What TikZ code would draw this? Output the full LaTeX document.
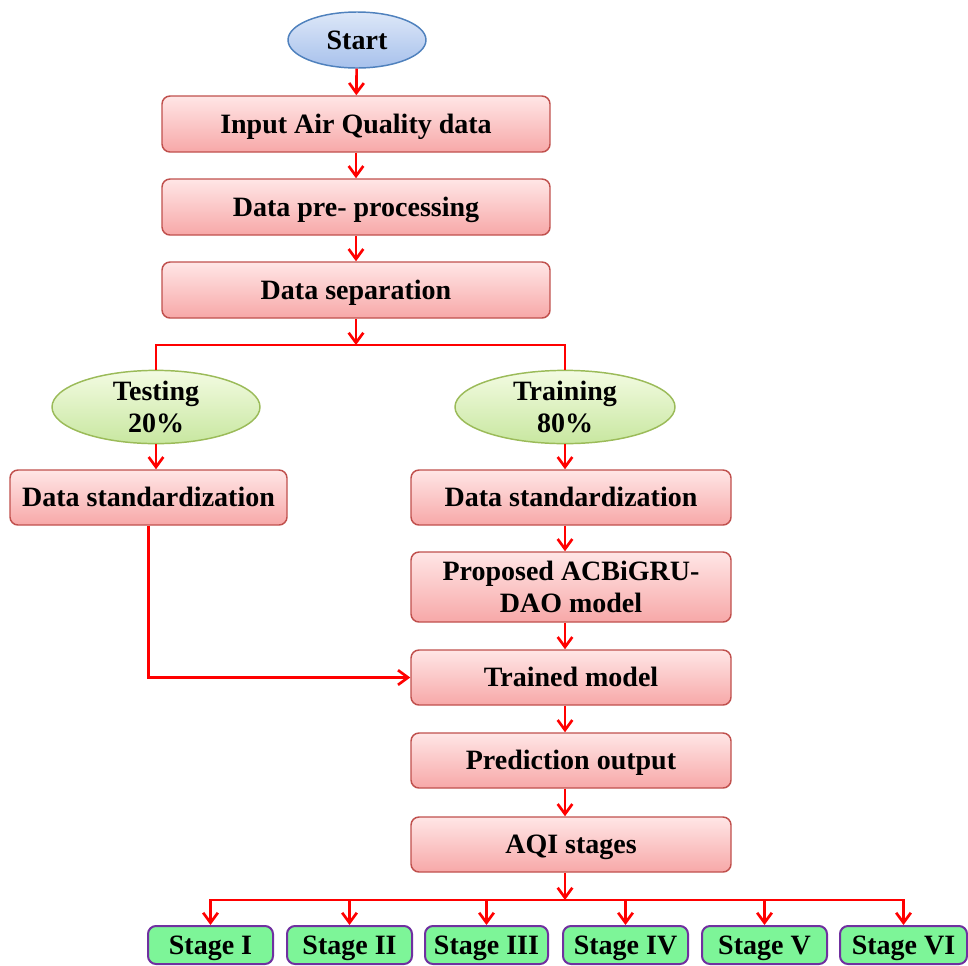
\documentclass[tikz,border=0pt]{standalone}
\usepackage{fontspec}
\setmainfont{Liberation Serif}
\usetikzlibrary{arrows.meta,shapes.geometric}
\definecolor{boxtop}{HTML}{FFE6E6}
\definecolor{boxbot}{HTML}{F7A8A8}
\definecolor{boxline}{HTML}{C0504D}
\definecolor{bluetop}{HTML}{DDE7F8}
\definecolor{bluebot}{HTML}{A7C1EC}
\definecolor{blueline}{HTML}{4F81BD}
\definecolor{greentop}{HTML}{F3FBE2}
\definecolor{greenbot}{HTML}{C8E7A0}
\definecolor{greenline}{HTML}{9BBB59}
\definecolor{stagefill}{HTML}{7DF598}
\definecolor{stageline}{HTML}{7030A0}
\definecolor{arrred}{HTML}{FF0000}
\tikzset{
  txt/.style={font=\fontsize{21}{24}\selectfont\bfseries, text=black, align=center, inner sep=0pt,
     text height=14pt, text depth=0pt},
  twoline/.style={text height=, text depth=},
  procbox/.style={txt, rectangle, rounded corners=6pt, draw=boxline, line width=1.1pt,
     top color=boxtop, bottom color=boxbot},
  startell/.style={txt, ellipse, draw=blueline, line width=1.1pt, top color=bluetop, bottom color=bluebot},
  splitell/.style={txt, twoline, ellipse, draw=greenline, line width=1.1pt, top color=greentop, bottom color=greenbot},
  stagebox/.style={txt, rectangle, rounded corners=6pt, draw=stageline, line width=1.5pt, fill=stagefill,
     minimum width=93.75pt, minimum height=28.5pt},
  conn/.style={draw=arrred, line width=2pt},
  arr/.style={conn, -{Straight Barb[length=7.5pt,width=11pt,line width=2pt]}}
}
\begin{document}
\begin{tikzpicture}[x=0.75pt,y=-0.75pt]
\useasboundingbox (0,0) rectangle (968,965);
\node[startell, minimum width=103.5pt, minimum height=42pt] (start) at (357,40) {Start};
\node[procbox, minimum width=291pt, minimum height=42pt] (inp) at (356,124) {Input Air Quality data};
\node[procbox, minimum width=291pt, minimum height=42pt] (pre) at (356,207) {Data pre- processing};
\node[procbox, minimum width=291pt, minimum height=42pt] (sep) at (356,290) {Data separation};
\coordinate (split) at (356,345);
\node[splitell, minimum width=156pt, minimum height=52.5pt] (test) at (156,407) {Testing\\20\%};
\node[splitell, minimum width=165pt, minimum height=52.5pt] (train) at (565,407) {Training\\80\%};
\node[procbox, minimum width=207.75pt, minimum height=41.25pt] (stdL) at (148.5,497.5) {Data standardization};
\node[procbox, minimum width=240pt, minimum height=41.25pt] (stdR) at (571,497.5) {Data standardization};
\node[procbox, twoline, minimum width=240pt, minimum height=52.5pt] (prop) at (571,587) {Proposed ACBiGRU-\\DAO model};
\node[procbox, minimum width=240pt, minimum height=41.25pt] (trained) at (571,677.5) {Trained model};
\node[procbox, minimum width=240pt, minimum height=41.25pt] (pred) at (571,760.5) {Prediction output};
\node[procbox, minimum width=240pt, minimum height=41.25pt] (aqi) at (571,844.5) {AQI stages};
\coordinate (bar) at (565,900);
\node[stagebox] (s1) at (210.5,945) {Stage I};
\node[stagebox] (s2) at (349.5,945) {Stage II};
\node[stagebox, minimum width=92.25pt] (s3) at (486.5,945) {Stage III};
\node[stagebox] (s4) at (625.5,945) {Stage IV};
\node[stagebox] (s5) at (764.5,945) {Stage V};
\node[stagebox, minimum width=95.25pt] (s6) at (903.5,945) {Stage VI};
% connectors
\draw[arr] (start) -- (inp);
\draw[arr] (inp) -- (pre);
\draw[arr] (pre) -- (sep);
\draw[arr] (sep) -- (split);
\draw[conn] (test.north) |- (split) -| (train.north);
\draw[arr] (test) -- (stdL.north -| test);
\draw[arr] (train) -- (stdR.north -| train);
\draw[arr] (stdR.south -| train) -- (prop.north -| train);
\draw[arr] (prop.south -| train) -- (trained.north -| train);
\draw[arr] (trained.south -| train) -- (pred.north -| train);
\draw[arr] (pred.south -| train) -- (aqi.north -| train);
\draw[arr] (stdL.south) |- (trained.west);
\draw[arr] (aqi.south -| train) -- (bar);
\draw[arr] (bar) -| (s1.north);
\draw[arr] (s2.north |- bar) -- (s2.north);
\draw[arr] (s3.north |- bar) -- (s3.north);
\draw[arr] (s4.north |- bar) -- (s4.north);
\draw[arr] (s5.north |- bar) -- (s5.north);
\draw[arr] (bar) -| (s6.north);
\end{tikzpicture}
\end{document}
